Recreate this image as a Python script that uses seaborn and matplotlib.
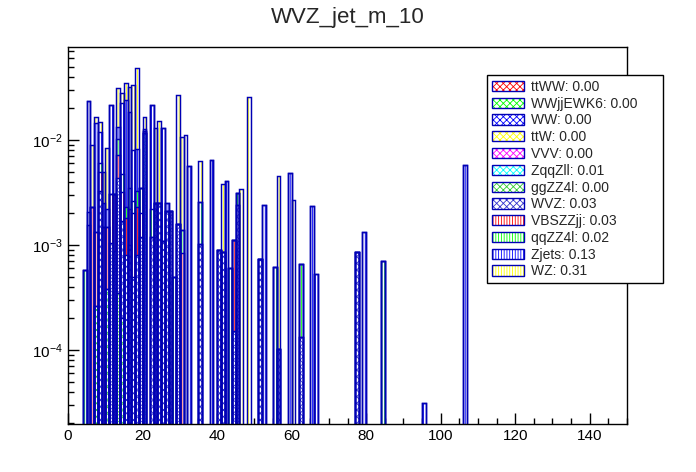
import numpy as np
import pandas as pd
import matplotlib
matplotlib.use("Agg")
import matplotlib.pyplot as plt
import seaborn as sns
from matplotlib.patches import Patch
from matplotlib.legend_handler import HandlerTuple
from matplotlib.ticker import LogLocator, MultipleLocator, NullFormatter, FixedLocator, FixedFormatter

# ---------------- data ----------------
n_bins = 150
x_min, x_max = 0, 150
title = "WVZ_jet_m_10"

# stack order: bottom -> top (also legend order)
processes = ["ttWW", "WWjjEWK6", "WW", "ttW", "VVV", "ZqqZll", "ggZZ4l",
             "WVZ", "VBSZZjj", "qqZZ4l", "Zjets", "WZ"]
yield_labels = ["0.00", "0.00", "0.00", "0.00", "0.00", "0.01", "0.00",
                "0.03", "0.03", "0.02", "0.13", "0.31"]

# sparse bin contents (bin index, content)
ttWW_bins, ttWW_vals = [], []
WWjjEWK6_bins, WWjjEWK6_vals = [], []
WW_bins, WW_vals = [], []
ttW_bins, ttW_vals = [], []
VVV_bins, VVV_vals = [], []
ZqqZll_bins = [20]
ZqqZll_vals = [1.16e-2]
ggZZ4l_bins = [7, 10, 13, 14]
ggZZ4l_vals = [2.6e-4, 3.8e-4, 3.5e-4, 2.0e-4]
WVZ_bins = [8, 11, 12, 13, 14, 15, 16, 17, 18, 19, 22, 23, 24, 25, 26, 27,
            29, 35, 40, 41, 44, 45, 51, 56, 62, 77]
WVZ_vals = [3.3e-3, 1.05e-3, 8.7e-4, 4.0e-3, 1.5e-3, 8.0e-4, 1.0e-3, 5.0e-4,
            8.0e-4, 1.2e-3, 1.2e-3, 2.5e-3, 2.5e-3, 1.1e-3, 2.1e-3, 2.1e-3,
            1.6e-3, 1.03e-3, 8.9e-4, 8.5e-4, 1.5e-4, 2.4e-3, 7.3e-4, 1.03e-4,
            1.33e-4, 8.5e-4]
VBSZZjj_bins = [5, 6, 7, 8, 9, 10, 11, 12, 13, 14, 15, 16, 17, 18, 19, 20, 30, 44]
VBSZZjj_vals = [1.55e-3, 2.32e-3, 1.08e-3, 1.7e-3, 1.5e-3, 1.1e-3, 2.0e-3,
                2.2e-3, 2.9e-3, 1.5e-3, 1.0e-3, 1.2e-3, 1.5e-3, 1.5e-3, 8.0e-4,
                6.0e-4, 8.3e-4, 9.7e-4]
qqZZ4l_bins = [4, 5, 8, 13, 14, 15, 16, 17, 18, 19, 22, 28, 30, 35, 43, 45,
               55, 62, 84]
qqZZ4l_vals = [5.8e-4, 5.2e-4, 1.0e-3, 3.0e-3, 1.5e-3, 5.0e-4, 1.3e-3, 6.0e-4,
               1.0e-3, 1.5e-3, 1.0e-3, 5.0e-4, 5.7e-4, 1.52e-3, 6.0e-4, 7.0e-4,
               6.2e-4, 5.2e-4, 7.0e-4]
Zjets_bins = [5, 7, 8, 9, 10, 11, 13, 14, 15, 16, 17, 18, 20, 22, 25, 26, 32,
              38, 42, 52, 59, 65, 66, 79, 95, 106]
Zjets_vals = [2.14e-2, 1.31e-2, 6.0e-3, 1.0e-3, 7.0e-4, 1.84e-2, 3.0e-3,
              1.8e-2, 2.17e-2, 1.5e-2, 5.4e-3, 5.0e-3, 5.0e-4, 1.92e-2, 1.2e-2,
              4.0e-4, 5.6e-3, 6.5e-3, 4.1e-3, 2.4e-3, 4.85e-3, 2.33e-3, 5.3e-4,
              1.32e-3, 3.1e-5, 5.8e-3]
WZ_bins = [6, 7, 8, 9, 10, 13, 14, 15, 16, 17, 18, 20, 23, 24, 29, 30, 31, 35,
           41, 46, 48, 56, 60]
WZ_vals = [6.6e-3, 2.3e-3, 3.0e-3, 2.5e-3, 6.3e-3, 1.8e-2, 5.3e-3, 1.07e-2,
           1.35e-2, 2.54e-2, 3.97e-2, 4.0e-3, 1.06e-2, 1.27e-2, 2.51e-2, 9.3e-3,
           1.11e-2, 3.75e-3, 2.95e-3, 3.4e-3, 2.57e-2, 4.4e-3, 2.7e-3]

sparse = {
    "ttWW": (ttWW_bins, ttWW_vals), "WWjjEWK6": (WWjjEWK6_bins, WWjjEWK6_vals),
    "WW": (WW_bins, WW_vals), "ttW": (ttW_bins, ttW_vals), "VVV": (VVV_bins, VVV_vals),
    "ZqqZll": (ZqqZll_bins, ZqqZll_vals), "ggZZ4l": (ggZZ4l_bins, ggZZ4l_vals),
    "WVZ": (WVZ_bins, WVZ_vals), "VBSZZjj": (VBSZZjj_bins, VBSZZjj_vals),
    "qqZZ4l": (qqZZ4l_bins, qqZZ4l_vals), "Zjets": (Zjets_bins, Zjets_vals),
    "WZ": (WZ_bins, WZ_vals),
}

# ---------------- style ----------------
colors = ["#ff0000", "#00ff00", "#0000ff", "#ffff00", "#ff00ff", "#00ffff",
          "#33cc33", "#3333cc", "#ff0000", "#00ff00", "#0000ff", "#ffff00"]
hatches = ["xxxxx"] * 8 + ["||||||"] * 4
outline = "#0000b4"

sns.set_theme(style="white")
plt.rcParams["font.family"] = ["Liberation Sans", "DejaVu Sans"]
plt.rcParams["mathtext.default"] = "regular"
plt.rcParams["hatch.linewidth"] = 0.6

edges = np.linspace(x_min, x_max, n_bins + 1)
centers = 0.5 * (edges[:-1] + edges[1:])
contents = []
for p in processes:
    b, v = sparse[p]
    h = np.zeros(n_bins)
    if len(b):
        h[np.array(b, dtype=int)] = v
    contents.append(h)
cumul = np.cumsum(np.array(contents), axis=0)

fig = plt.figure(figsize=(6.96, 4.72), dpi=100)
ax = fig.add_axes([68 / 696, 1 - 424 / 472, (627 - 68) / 696, (424 - 47) / 472])
ax.set_yscale("log")

hist_kw = dict(bins=n_bins, binrange=(x_min, x_max), stat="count", element="bars")
# fills: largest cumulative first, lower ones on top (ROOT THStack style)
for i in reversed(range(len(processes))):
    if contents[i].sum() == 0:
        continue
    df = pd.DataFrame({"x": centers, "w": cumul[i]})
    sns.histplot(data=df, x="x", weights="w", ax=ax, fill=True, facecolor="white",
                 edgecolor=colors[i], linewidth=0, hatch=hatches[i], **hist_kw)
# outlines of each cumulative level
for i in reversed(range(len(processes))):
    if contents[i].sum() == 0:
        continue
    df = pd.DataFrame({"x": centers, "w": cumul[i]})
    sns.histplot(data=df, x="x", weights="w", ax=ax, fill=False, color=outline,
                 linewidth=1.05, **hist_kw)

ax.set_xlim(x_min, x_max)
ax.set_ylim(10 ** -4.705, 10 ** -1.114)
ax.set_xlabel("")
ax.set_ylabel("")

for s in ax.spines.values():
    s.set_color("black")
    s.set_linewidth(1.0)
ax.xaxis.set_major_locator(MultipleLocator(20))
ax.xaxis.set_minor_locator(MultipleLocator(5))
ax.yaxis.set_major_locator(FixedLocator([1e-4, 1e-3, 1e-2]))
ax.yaxis.set_major_formatter(FixedFormatter([r"$10^{-4}$", r"$10^{-3}$", r"$10^{-2}$"]))
ax.yaxis.set_minor_locator(LogLocator(base=10, subs=np.arange(2, 10)))
ax.yaxis.set_minor_formatter(NullFormatter())
ax.tick_params(which="both", direction="in", top=False, right=False,
               left=True, bottom=True, colors="black", labelsize=11, width=1.0)
ax.tick_params(which="major", length=8)
ax.tick_params(which="minor", length=4)
ax.tick_params(axis="y", which="major", pad=4)

fig.text(0.5, 1 - 18 / 472, title, ha="center", va="center", fontsize=16)

handles = []
for i, p in enumerate(processes):
    ph = Patch(facecolor="white", edgecolor=colors[i], hatch=hatches[i], linewidth=0)
    po = Patch(facecolor="none", edgecolor=outline, linewidth=1.0)
    handles.append((ph, po))
labels = [f"{p}: {y}" for p, y in zip(processes, yield_labels)]
leg = fig.legend(handles, labels, loc="upper left",
                 bbox_to_anchor=(487 / 696, 1 - 75 / 472 - 0.01, (663 - 487) / 696, 0.01),
                 bbox_transform=fig.transFigure, mode="expand",
                 handler_map={tuple: HandlerTuple(ndivide=1, pad=0)},
                 frameon=True, fancybox=False, framealpha=1, edgecolor="black",
                 borderaxespad=0, borderpad=0.35, handlelength=2.3, handleheight=0.75,
                 labelspacing=0.2, handletextpad=0.5, prop={"size": 10})
leg.get_frame().set_linewidth(1.0)

fig.savefig("out.png", dpi=100)
